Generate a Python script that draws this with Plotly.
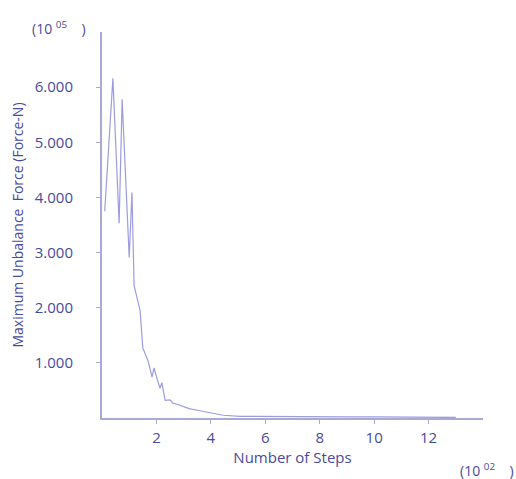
import plotly.graph_objects as go

steps = [0.1, 0.4, 0.63, 0.74, 1.0, 1.1, 1.18, 1.4, 1.5, 1.69, 1.84, 1.91, 2.0, 2.13, 2.2,
         2.32, 2.5, 2.6, 2.76, 3.0, 3.2, 3.5, 3.85, 4.1, 4.45, 5.07, 6, 7, 8, 9, 10, 11, 12, 13]
force = [3.75, 6.16, 3.53, 5.78, 2.91, 4.09, 2.40, 1.95, 1.27, 1.04, 0.74, 0.91, 0.75, 0.54, 0.64,
         0.32, 0.33, 0.27, 0.25, 0.20, 0.17, 0.14, 0.11, 0.08, 0.05, 0.03, 0.025, 0.03, 0.02, 0.02,
         0.02, 0.015, 0.015, 0.01]
x_ticks = [2, 4, 6, 8, 10, 12]
y_ticks = [1, 2, 3, 4, 5, 6]

text_color = "#4a4a9c"
axis_color = "#a9a9d6"
line_color = "#9c9ce0"
font = "Open Sans"

fig = go.Figure()
fig.add_trace(go.Scatter(x=steps, y=force, mode="lines",
                         line=dict(color=line_color, width=1.2), showlegend=False))

fig.update_layout(
    width=516, height=479,
    margin=dict(l=102, r=33, t=32, b=61),
    paper_bgcolor="white", plot_bgcolor="white",
    font=dict(family=font, size=15, color=text_color),
    xaxis=dict(range=[0, 14], tickvals=x_ticks, ticks="outside", ticklen=4,
               tickcolor=axis_color, showline=True, linecolor=axis_color, linewidth=2,
               showgrid=False, zeroline=False, ticklabelstandoff=1,
               title=dict(text="Number of Steps", font=dict(size=15, color=text_color), standoff=6)),
    yaxis=dict(range=[0, 7], tickvals=y_ticks, tickformat=".3f", ticks="outside", ticklen=4,
               tickcolor=axis_color, showline=True, linecolor=axis_color, linewidth=2,
               showgrid=False, zeroline=False, ticklabelstandoff=20,
               title=dict(text="Maximum Unbalance  Force (Force-N)", font=dict(size=14, color=text_color), standoff=8)),
    annotations=[
        dict(text="(10 <sup>05</sup>    )", xref="paper", yref="paper", x=-0.188, y=1.01,
             xanchor="left", yanchor="middle", showarrow=False, font=dict(size=14, color=text_color)),
        dict(text="(10 <sup>02</sup>    )", xref="paper", yref="paper", x=0.934, y=-0.135,
             xanchor="left", yanchor="middle", showarrow=False, font=dict(size=14, color=text_color)),
    ],
)

fig.write_html("out.html")
